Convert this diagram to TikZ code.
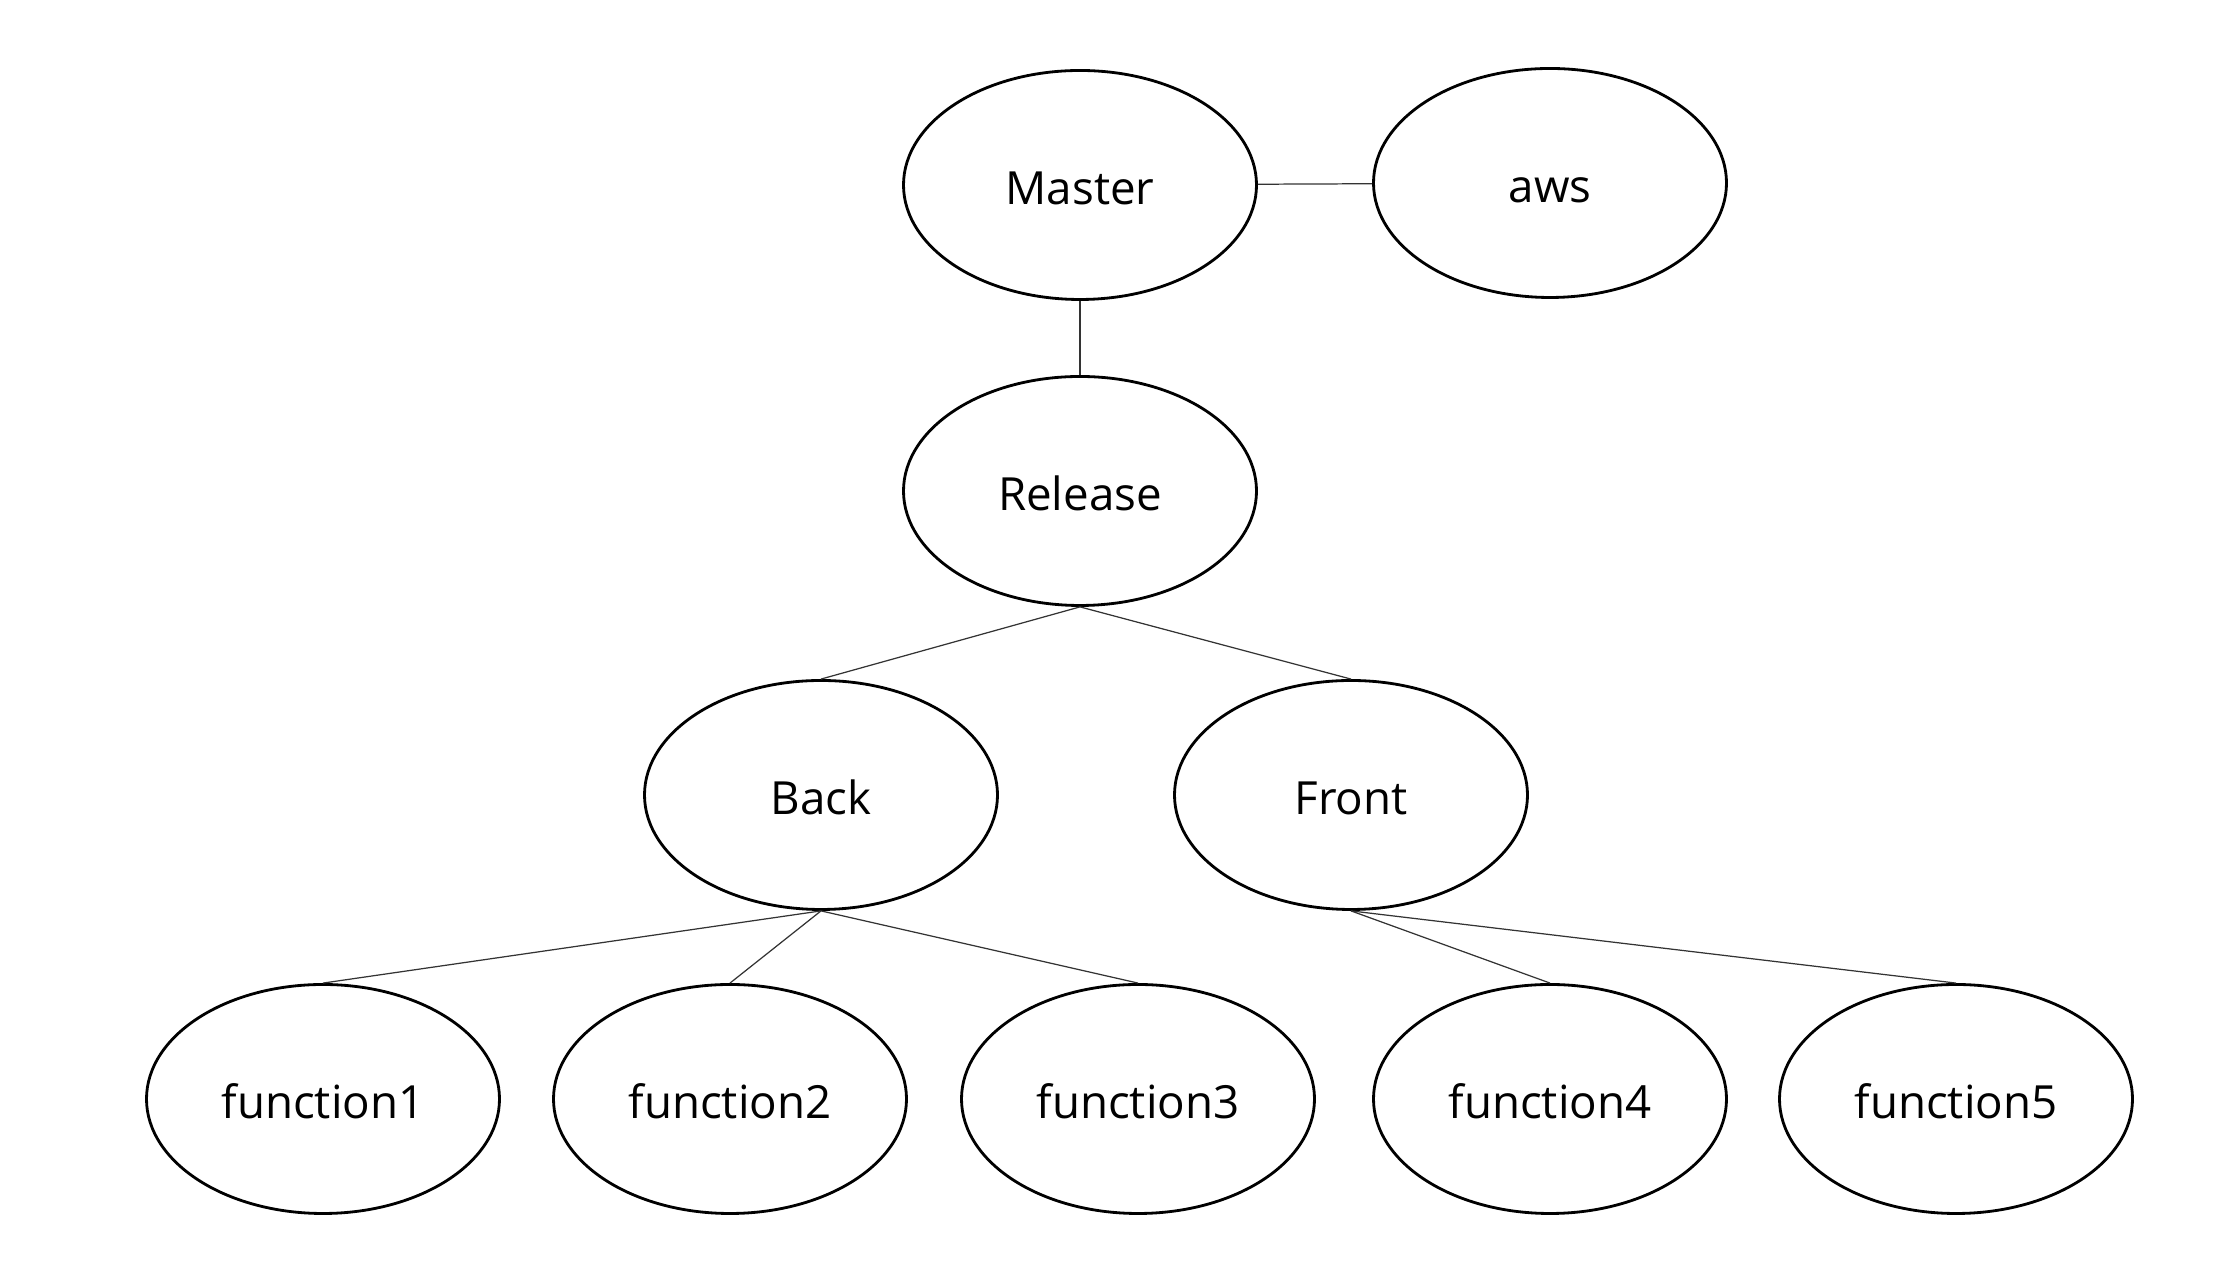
\documentclass[tikz,border=0pt]{standalone}
\usepackage{fontspec}
\setmainfont{Open Sans}
\usetikzlibrary{shapes.geometric}
\tikzset{
  branch/.style={ellipse,draw,line width=0.8pt,minimum width=3.53cm,minimum height=2.29cm,inner sep=0pt,text height=2.2ex,text depth=0.1ex,font=\fontsize{13}{15}\selectfont},
  link/.style={line width=0.35pt,draw=black!80}
}
\begin{document}
\begin{tikzpicture}
  \useasboundingbox (0,0) rectangle (22.13,12.79);

  \node[branch] (master) at (10.80, 10.94) {Master};
  \node[branch] (aws) at (15.50, 10.96) {aws};
  \node[branch] (release) at (10.80, 7.88) {Release};

  \node[branch] (back) at (8.21, 4.84) {Back};
  \node[branch] (front) at (13.51, 4.84) {Front};

  \node[branch] (f1) at (3.23, 1.80) {function1};
  \node[branch] (f2) at (7.30, 1.80) {function2};
  \node[branch] (f3) at (11.38, 1.80) {function3};
  \node[branch] (f4) at (15.50, 1.80) {function4};
  \node[branch] (f5) at (19.56, 1.80) {function5};

  \draw[link] (master) to (aws);
  \draw[link] (master.south) to (release.north);
  \draw[link] (release.south) to (back.north);
  \draw[link] (release.south) to (front.north);
  \draw[link] (back.south) to (f1.north);
  \draw[link] (back.south) to (f2.north);
  \draw[link] (back.south) to (f3.north);
  \draw[link] (front.south) to (f4.north);
  \draw[link] (front.south) to (f5.north);
\end{tikzpicture}
\end{document}
